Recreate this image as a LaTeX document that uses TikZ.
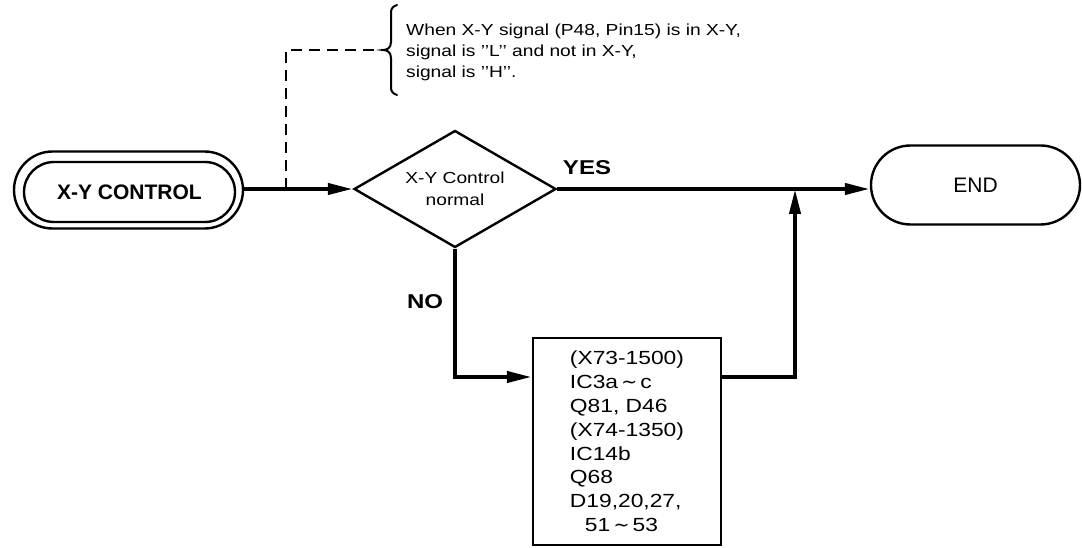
\documentclass[tikz,border=0pt]{standalone}
\usepackage{fontspec}
\setmainfont{Liberation Sans}
\newfontfamily\widefont[FakeStretch=1.2]{Liberation Sans}
\newfontfamily\symfont{DejaVu Sans}
\usetikzlibrary{shapes.geometric,shapes.misc,arrows.meta}
\newcommand{\tld}{{\symfont ∼}}
\begin{document}
\begin{tikzpicture}[x=1pt,y=-1pt,
  term/.style={rounded rectangle, draw, line width=2.4pt, inner sep=0pt},
  decision/.style={diamond, draw, line width=2.4pt, inner sep=0pt, aspect=1.73,
    minimum width=202pt, minimum height=117pt, align=center,
    font=\widefont\fontsize{16}{22}\selectfont},
  procbox/.style={rectangle, draw, line width=2.4pt, inner sep=0pt, align=left,
    minimum width=188pt, minimum height=207pt,
    font=\widefont\fontsize{19}{23.8}\selectfont},
  flow/.style={line width=4pt, -{Triangle[length=25pt,width=11pt]}},
  lbl/.style={inner sep=0pt, font=\widefont\bfseries\fontsize{20}{24}\selectfont},
  notedash/.style={line width=1.7pt, dash pattern=on 11pt off 7pt},
  bracepath/.style={line width=2pt, line cap=round}
]
\useasboundingbox (0,0) rectangle (1082,548);

% start terminal (double outline)
\node[term, minimum width=229pt, minimum height=77pt] (start) at (128.5,190) {};
\node[term, minimum width=211pt, minimum height=60pt,
      font=\bfseries\fontsize{21}{25}\selectfont] (starti) at (129.5,192) {X-Y CONTROL};

% decision
\node[decision] (dia) at (455,189) {X-Y Control\\normal};

% end terminal
\node[term, minimum width=209pt, minimum height=79pt,
      font=\fontsize{21}{25}\selectfont] (endn) at (975.5,185) {END};

% process box
\node[procbox] (box) at (627,441.5) {(X73-1500)\\IC3a\,\tld\,c\\Q81, D46\\(X74-1350)\\IC14b\\Q68\\D19,20,27,\\\hspace*{15pt}51\,\tld\,53};

% note
\node[anchor=west, inner sep=0pt, align=left,
      font=\widefont\fontsize{16}{21}\selectfont] (note) at (406,52)
  {When X-Y signal (P48, Pin15) is in X-Y,\\signal is ’’L’’ and not in X-Y,\\signal is ’’H’’.};

% labels
\node[lbl] (yes) at (587,168) {YES};
\node[lbl] (no) at (425,302) {NO};

% coordinates
\coordinate (tap) at (286,189);
\coordinate (corner) at (286,50);
\coordinate (brtip) at (383,50);
\coordinate (lvl) at (0,377);
\coordinate (join) at (795,189);

% connectors
\draw[flow] (start.east |- dia.west) -- (dia.west);
\draw[flow] (dia.east) -- (dia.east -| endn.west);
\draw[flow] (dia.south) |- (box.west |- lvl);
\draw[flow] (box.east |- lvl) -| (join);

% dashed lead to note
\draw[notedash] (tap) -- (corner) -- (brtip);

% brace
\draw[bracepath] ([shift={(14,-45)}]brtip) .. controls ([shift={(8,-43)}]brtip) and ([shift={(8,-40)}]brtip) .. ([shift={(8,-36)}]brtip)
  -- ([shift={(8,-8)}]brtip) .. controls ([shift={(8,-2)}]brtip) and ([shift={(4,0)}]brtip) .. (brtip)
  .. controls ([shift={(4,0)}]brtip) and ([shift={(8,2)}]brtip) .. ([shift={(8,8)}]brtip)
  -- ([shift={(8,36)}]brtip) .. controls ([shift={(8,40)}]brtip) and ([shift={(8,43)}]brtip) .. ([shift={(14,45)}]brtip);
\end{tikzpicture}
\end{document}
